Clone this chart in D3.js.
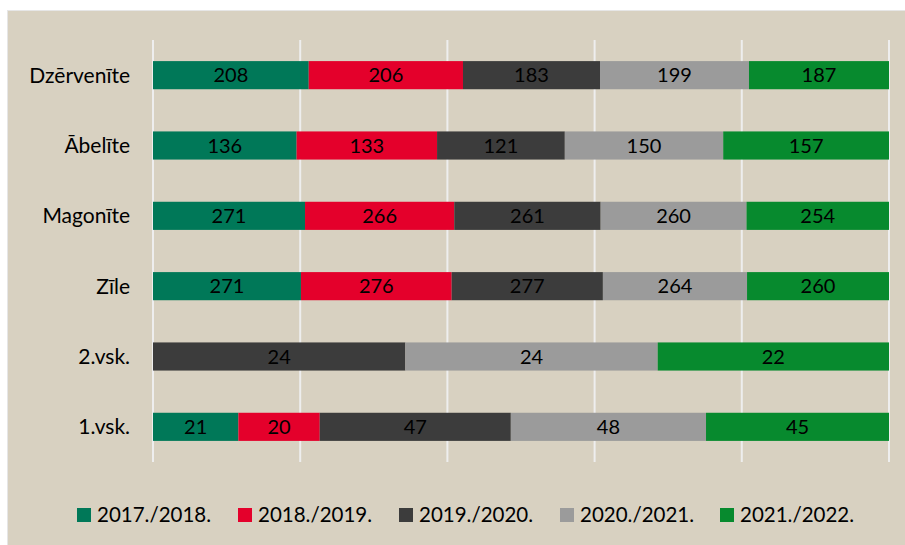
<!DOCTYPE html>
<html>
<head>
<meta charset="utf-8">
<script src="https://cdn.jsdelivr.net/npm/d3@7"></script>
<style>
  body { margin: 0; background: #fff; }
  text { font-family: Lato, "Open Sans", sans-serif; fill: #000; }
</style>
</head>
<body>
<div id="chart"></div>
<script>
// categories (top to bottom)
const schools = ["Dzērvenīte", "Ābelīte", "Magonīte", "Zīle", "2.vsk.", "1.vsk."];
const years = ["2017./2018.", "2018./2019.", "2019./2020.", "2020./2021.", "2021./2022."];
// one array per school year, same order as schools (null = no data)
const y2017 = [208, 136, 271, 271, null, 21];
const y2018 = [206, 133, 266, 276, null, 20];
const y2019 = [183, 121, 261, 277, 24, 47];
const y2020 = [199, 150, 260, 264, 24, 48];
const y2021 = [187, 157, 254, 260, 22, 45];
const gridTicks = [0, 0.2, 0.4, 0.6, 0.8, 1];

const colors = ["#007858", "#e4002b", "#3c3c3c", "#9b9b9b", "#078a2e"];
const series = [y2017, y2018, y2019, y2020, y2021];

const W = 905, H = 545;
const svg = d3.select("#chart").append("svg").attr("width", W).attr("height", H);

// background panel
svg.append("rect").attr("x", 7).attr("y", 10).attr("width", W - 7).attr("height", H - 10)
  .attr("fill", "#d8d1c1");
svg.append("line").attr("x1", 7).attr("x2", W).attr("y1", 10.5).attr("y2", 10.5).attr("stroke", "#e6e6e6");
svg.append("line").attr("x1", 7.5).attr("x2", 7.5).attr("y1", 10).attr("y2", H).attr("stroke", "#e6e6e6");

const x = d3.scaleLinear().domain([0, 1]).range([153, 889]);
const y = d3.scaleBand().domain(schools).range([40, 462]).paddingInner(0.6).paddingOuter(0.3);

// gridlines
svg.append("g").selectAll("line").data(gridTicks).enter().append("line")
  .attr("x1", d => x(d)).attr("x2", d => x(d))
  .attr("y1", 40).attr("y2", 462)
  .attr("stroke", "#eeeeee").attr("stroke-width", 2);

// build stacked rows as shares of the row total
const rows = schools.map((s, i) => {
  const vals = series.map(a => a[i]);
  const total = d3.sum(vals, v => v || 0);
  let acc = 0;
  const segs = [];
  vals.forEach((v, k) => {
    if (v == null) return;
    segs.push({ school: s, k: k, v: v, x0: acc / total, x1: (acc + v) / total });
    acc += v;
  });
  return segs;
});

const g = svg.append("g");
rows.forEach(segs => {
  segs.forEach(d => {
    g.append("rect")
      .attr("x", x(d.x0)).attr("y", y(d.school))
      .attr("width", x(d.x1) - x(d.x0)).attr("height", y.bandwidth())
      .attr("fill", colors[d.k]);
    g.append("text")
      .attr("x", (x(d.x0) + x(d.x1)) / 2)
      .attr("y", y(d.school) + y.bandwidth() / 2)
      .attr("dy", "0.36em")
      .attr("text-anchor", "middle")
      .attr("font-size", 20)
      .text(d.v);
  });
});

// category labels
svg.append("g").selectAll("text").data(schools).enter().append("text")
  .attr("x", 130).attr("y", d => y(d) + y.bandwidth() / 2).attr("dy", "0.36em")
  .attr("text-anchor", "end").attr("font-size", 21)
  .text(d => d);

// legend
const legX = [77, 238, 399, 560, 720];
const leg = svg.append("g").selectAll("g").data(years).enter().append("g")
  .attr("transform", (d, i) => `translate(${legX[i]},508)`);
leg.append("rect").attr("width", 14).attr("height", 14).attr("fill", (d, i) => colors[i]);
leg.append("text").attr("x", 20).attr("y", 7).attr("dy", "0.36em")
  .attr("font-size", 20.5).text(d => d);
</script>
</body>
</html>
